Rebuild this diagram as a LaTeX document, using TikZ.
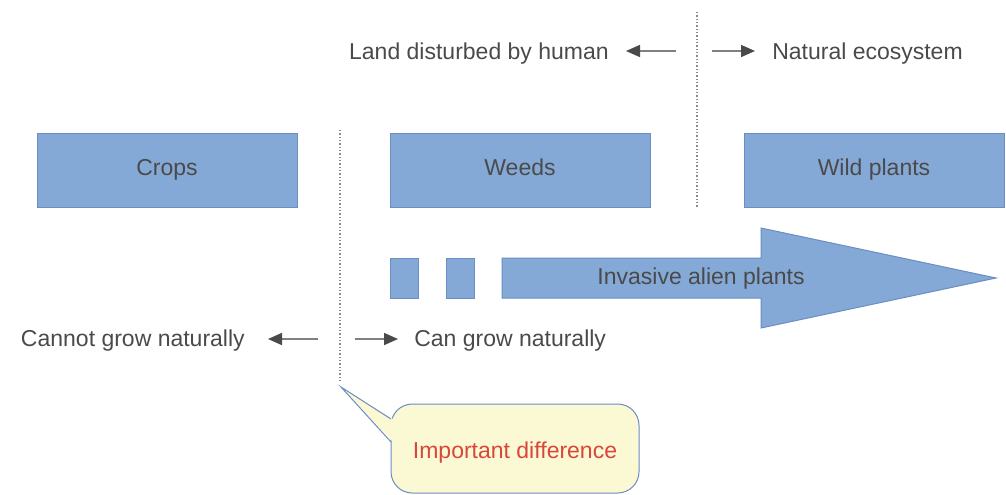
\documentclass[tikz,border=0pt]{standalone}
\usepackage{fontspec}
\setmainfont{Liberation Sans}
\usetikzlibrary{arrows.meta}
\definecolor{boxfill}{HTML}{85A9D6}
\definecolor{boxline}{HTML}{6A8DC4}
\definecolor{txt}{HTML}{4A4A4A}
\definecolor{arrline}{HTML}{808080}
\definecolor{arrhead}{HTML}{4A4A4A}
\definecolor{callfill}{HTML}{FBF8D4}
\definecolor{calltxt}{HTML}{D9463B}
\definecolor{dotline}{HTML}{8A8A8A}
\tikzset{
  plantbox/.style={draw=boxline, fill=boxfill, line width=0.75pt, minimum width=195pt, minimum height=55.5pt, inner sep=0pt, text height=12.4pt, text depth=3.75pt, text=txt, font=\fontsize{17.25}{20}\selectfont},
  lbl/.style={text=txt, inner sep=0pt, font=\fontsize{17.25}{20}\selectfont},
  dirarrow/.style={draw=arrline, line width=1.2pt, -{Triangle[length=10.5pt,width=9pt,color=arrhead]}},
  divider/.style={draw=dotline, line width=0.9pt, dash pattern=on 1.1pt off 1.4pt},
  partbox/.style={draw=boxline, fill=boxfill, line width=0.75pt}
}
\begin{document}
\begin{tikzpicture}[x=0.75pt,y=-0.75pt]
\useasboundingbox (0,0) rectangle (1006,494);
% boxes
\node[plantbox] (crops) at (167,170) {Crops};
\node[plantbox] (weeds) at (520,170) {Weeds};
\node[plantbox] (wild) at (874,170) {Wild plants};
% dividers
\coordinate (d1t) at (697,12);
\coordinate (d1b) at (697,207);
\draw[divider] (d1t) -- (d1b);
\coordinate (d2t) at (340,130);
\coordinate (d2b) at (340,383);
\draw[divider] (d2t) -- (d2b);
% top labels
\node[lbl, anchor=base east] (land) at (609,59) {Land disturbed by human};
\node[lbl, anchor=base west] (nat) at (772,59) {Natural ecosystem};
\coordinate (a1s) at (676,51);
\coordinate (a1e) at (626,51);
\coordinate (a2s) at (712,51);
\coordinate (a2e) at (755,51);
\draw[dirarrow] (a1s) -- (a1e);
\draw[dirarrow] (a2s) -- (a2e);
% bottom labels
\node[lbl, anchor=base east] (cannot) at (245,346) {Cannot grow naturally};
\node[lbl, anchor=base west] (can) at (414,346) {Can grow naturally};
\coordinate (b1s) at (318,339);
\coordinate (b1e) at (268,339);
\coordinate (b2s) at (355,339);
\coordinate (b2e) at (398,339);
\draw[dirarrow] (b1s) -- (b1e);
\draw[dirarrow] (b2s) -- (b2e);
% invasive
\draw[partbox] (390,258) rectangle (418,298);
\draw[partbox] (446,258) rectangle (474,298);
\draw[partbox] (502,258) -- (761,258) -- (761,228) -- (996,278) -- (761,328) -- (761,298) -- (502,298) -- cycle;
\node[lbl, anchor=base] (inv) at (701,284) {Invasive alien plants};
% callout
\draw[draw=boxline, fill=callfill, line width=0.75pt, rounded corners=16pt] (391,404) rectangle (639,493);
\coordinate (tip) at (341,387);
\fill[callfill] (393,419) -- (tip) -- (393,442) -- cycle;
\draw[draw=boxline, line width=0.75pt] (391,419) -- (tip) -- (391,442);
\node[text=calltxt, inner sep=0pt, anchor=base, font=\fontsize{17.25}{20}\selectfont] (imp) at (515,458) {Important difference};
\end{tikzpicture}
\end{document}
